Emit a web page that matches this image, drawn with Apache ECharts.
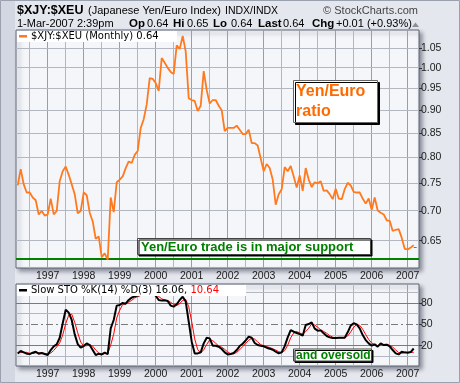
<!DOCTYPE html>
<html><head><meta charset="utf-8">
<script src="https://cdn.jsdelivr.net/npm/echarts@6.0.0/dist/echarts.min.js"></script>
<style>html,body{margin:0;padding:0;background:#e4e7ee;}#c{width:460px;height:383px;}</style>
</head><body><div id="c"></div>
<script>
// ---- data (monthly, starting March 1996) ----
const startMonth = '1996-03';
const ratio = [
 0.746,0.777,0.748,0.733,0.733,0.724,0.719,0.694,0.700,0.692,
 0.694,0.722,0.694,0.700,0.754,0.773,0.782,0.766,0.748,0.730,
 0.696,0.700,0.733,0.728,0.697,0.682,0.653,0.657,0.624,0.630,
 0.620,0.724,0.698,0.752,0.757,0.763,0.779,0.792,0.789,0.805,
 0.813,0.861,0.880,0.913,0.975,0.973,0.963,0.944,1.025,1.013,
 1.000,0.990,0.985,1.058,1.048,1.083,1.042,0.927,0.923,0.921,
 0.898,0.910,0.992,0.946,0.915,0.923,0.923,0.910,0.900,0.854,
 0.861,0.861,0.861,0.866,0.857,0.848,0.848,0.857,0.829,0.829,
 0.824,0.798,0.773,0.787,0.779,0.757,0.711,0.730,0.739,0.781,
 0.773,0.783,0.763,0.742,0.765,0.736,0.779,0.757,0.743,0.752,
 0.750,0.754,0.736,0.737,0.730,0.721,0.740,0.722,0.721,0.739,
 0.751,0.746,0.734,0.733,0.733,0.722,0.713,0.722,0.702,0.724,
 0.701,0.697,0.694,0.684,0.683,0.666,0.668,0.669,0.655,0.637,
 0.636,0.639,0.643
];
const stoK = [
 9.1,12.5,10.6,8.7,8.2,10.1,11.5,8.7,9.6,8.2,
 6.8,13.9,19.1,21.9,31.3,51.7,71.0,66.8,56.4,36.1,
 22.4,17.2,19.5,23.3,21.0,13.9,6.8,8.7,7.7,10.1,
 8.2,44.6,56.4,76.7,77.6,80.5,79.5,84.7,88.0,90.0,
 90.9,92.0,93.0,93.5,94.0,93.5,90.9,84.7,83.8,84.3,
 83.3,76.7,75.3,78.6,84.7,89.4,82.4,54.0,25.7,9.1,
 9.1,10.6,23.3,31.3,30.4,20.0,20.0,18.6,15.3,10.6,
 7.7,8.2,9.6,13.9,19.5,22.8,27.6,32.8,31.3,23.8,
 21.0,20.0,19.1,17.2,15.8,14.3,11.5,9.1,10.6,19.5,
 31.8,42.2,39.8,38.0,36.5,34.2,49.3,50.7,53.1,44.1,
 41.3,41.7,37.5,33.7,31.8,30.9,30.9,31.3,31.3,31.3,
 38.9,48.4,51.7,50.2,44.6,35.1,28.0,23.3,20.0,21.9,
 18.6,23.3,21.0,21.4,19.1,13.9,9.1,7.7,11.5,10.6,
 10.1,11.0,16.06
];
const stoD = [
 10.0,10.5,10.7,10.6,9.2,9.0,9.9,10.1,9.9,8.8,
 8.2,9.6,13.3,18.3,24.1,35.0,51.3,63.2,64.7,53.1,
 38.3,25.2,19.7,20.0,21.3,19.4,13.9,9.8,7.7,8.8,
 8.7,21.0,36.4,59.2,70.2,78.3,79.2,81.6,84.1,87.6,
 89.6,91.0,92.0,92.8,93.5,93.7,92.8,89.7,86.5,84.3,
 83.8,81.4,78.4,76.9,79.5,84.2,85.5,75.3,54.0,29.6,
 14.6,9.6,14.3,21.7,28.3,27.2,23.5,19.5,18.0,14.8,
 11.2,8.8,8.5,10.6,14.3,18.7,23.3,27.7,30.6,29.3,
 25.4,21.6,20.0,18.8,17.4,15.8,13.9,11.6,10.4,13.1,
 20.6,31.2,37.9,40.0,38.1,36.2,40.0,44.7,51.0,49.3,
 46.2,42.4,40.2,37.6,34.3,32.1,31.2,31.0,31.2,31.3,
 33.8,39.5,46.3,50.1,48.8,43.3,35.9,28.8,23.8,21.7,
 20.2,21.3,21.0,21.9,20.5,18.1,14.0,10.2,9.4,9.9,
 10.7,10.6,10.64
];
const priceTicks = [0.65,0.70,0.75,0.80,0.85,0.90,0.95,1.00,1.05];
const stoLabelTicks = [20,50,80];
const stoLightTicks = [5,35,65,95];
const yearTicks = [1997,1998,1999,2000,2001,2002,2003,2004,2005,2006,2007];
const halfYearTicks = [1996.5,1997.5,1998.5,1999.5,2000.5,2001.5,2002.5,2003.5,2004.5,2005.5,2006.5];
const supportLevel = 0.62;
const lastValue = 0.64;

// ---- build ----
const months = [];
(function(){ let [y,m] = startMonth.split('-').map(Number);
  for (let i=0;i<ratio.length;i++){ months.push(y+(m-1)/12); m++; if(m>12){m=1;y++;} } })();
const X_MIN = 1996.119, X_MAX = 2007.314;
const LABEL_FONT = 'Liberation Sans, Arial, sans-serif';
const STYLES = {
  light:{color:'#b3b7c1', w:1},
  dark:{color:'#9a9eaa', w:1},
  level:{color:'#7a7a7a', w:1},
  dashdot:{color:'#7a7a7a', w:1, dash:[7,3,2,3]},
  support:{color:'#008000', w:2}
};
function gridItems(hValues, yInRange, extraH){
  const items = [];
  yearTicks.forEach(v=>items.push([v, yInRange, 'v', 'dark']));
  halfYearTicks.forEach(v=>items.push([v, yInRange, 'v', 'light']));
  hValues.forEach(v=>items.push([X_MIN, v, 'h', 'light']));
  (extraH||[]).forEach(e=>items.push([X_MIN, e[0], 'h', e[1]]));
  return items;
}
function gridSeries(xi, yi, items){
  return {
    type:'custom', xAxisIndex:xi, yAxisIndex:yi, z:1, silent:true, clip:false,
    data: items.map(it=>[it[0], it[1]]), encode:{x:0, y:1},
    renderItem:function(params, api){
      const it = items[params.dataIndex];
      const cs = params.coordSys;
      const p = api.coord([api.value(0), api.value(1)]);
      const st = STYLES[it[3]];
      if (st.dash){
        const y = Math.floor(p[1]) + 0.5;
        return {type:'line', shape:{x1:cs.x, y1:y, x2:cs.x+cs.width, y2:y},
          style:{stroke:st.color, lineWidth:1, lineDash:st.dash, fill:null}};
      }
      if (it[2]==='v'){
        return {type:'rect', shape:{x:Math.floor(p[0]), y:cs.y, width:st.w, height:cs.height}, style:{fill:st.color}};
      }
      return {type:'rect', shape:{x:cs.x, y:Math.floor(p[1]) - (st.w>1?1:0), width:cs.width, height:st.w}, style:{fill:st.color}};
    }
  };
}
function xAxisFor(gi){
  return {
    type:'value', gridIndex:gi, min:X_MIN, max:X_MAX,
    axisLine:{show:false}, axisTick:{show:false}, splitLine:{show:false},
    axisLabel:{show:true, customValues:yearTicks, formatter:v=>String(Math.round(v)),
      color:'#1a1a1a', fontSize:10.5, fontFamily:LABEL_FONT, margin:3}
  };
}
const lnTicks = priceTicks.map(Math.log);
const chart = echarts.init(document.getElementById('c'), null, {renderer:'canvas', devicePixelRatio:1});
const gridCommon = {show:true, backgroundColor:'#f5f6fa', borderColor:'#5a6275', borderWidth:1,
  shadowColor:'rgba(40,45,60,0.45)', shadowBlur:4, shadowOffsetX:3, shadowOffsetY:3, outerBoundsMode:'none'};

chart.setOption({
  animation:false,
  backgroundColor:'#e4e7ee',
  grid:[
    Object.assign({left:16, top:30, width:403, height:238}, gridCommon),
    Object.assign({left:16, top:284, width:403, height:82}, gridCommon)
  ],
  xAxis:[xAxisFor(0), xAxisFor(1)],
  yAxis:[{
    type:'value', gridIndex:0, position:'right',
    min:Math.log(0.6073), max:Math.log(1.099),
    axisLine:{show:false},
    axisTick:{show:true, customValues:lnTicks, length:3, lineStyle:{color:'#333'}},
    axisLabel:{customValues:lnTicks, formatter:v=>Math.exp(v).toFixed(2), margin:2,
      color:'#1a1a1a', fontSize:10.5, fontFamily:LABEL_FONT},
    splitLine:{show:false}
  },{
    type:'value', gridIndex:1, position:'right', min:-8.7, max:107.3,
    axisLine:{show:false},
    axisTick:{show:true, customValues:stoLabelTicks, length:3, lineStyle:{color:'#333'}},
    axisLabel:{customValues:stoLabelTicks, margin:2, color:'#1a1a1a', fontSize:10.5, fontFamily:LABEL_FONT},
    splitLine:{show:false}
  }],
  series:[
    gridSeries(0, 0, gridItems(lnTicks, 0, [[Math.log(supportLevel), 'support']])),
    gridSeries(1, 1, gridItems(stoLightTicks, 50, [[80,'level'],[20,'level'],[50,'dashdot']])),
  {
    type:'line', xAxisIndex:0, yAxisIndex:0, symbol:'none', z:5,
    data: months.map((t,i)=>[t, Math.log(ratio[i])]),
    lineStyle:{color:'#ff7a1e', width:1.8}, itemStyle:{color:'#ff7a1e'},
    markLine:{silent:true, symbol:'none', label:{show:false}, animation:false, data:[
        [{coord:[months[months.length-1], Math.log(lastValue)], lineStyle:{color:'#a050b0', width:1, type:[3,3]}},
         {coord:[X_MAX, Math.log(lastValue)]}]
      ]}
  },{
    type:'line', xAxisIndex:1, yAxisIndex:1, symbol:'none', z:4,
    data: months.map((t,i)=>[t, stoD[i]]),
    lineStyle:{color:'#ff0000', width:1}
  },{
    type:'line', xAxisIndex:1, yAxisIndex:1, symbol:'none', z:5,
    data: months.map((t,i)=>[t, stoK[i]]),
    lineStyle:{color:'#000000', width:2}
  }],
  graphic:[
    {type:'rect', shape:{x:0,y:0,width:15,height:383}, z:-10, style:{fill:'#d3d7e1'}},
    {type:'rect', shape:{x:0.5,y:0.5,width:459,height:382}, z:-9, style:{fill:null, stroke:'#9aa0ae', lineWidth:1}},
    {type:'text', x:17, y:10.5, z:100, style:{text:'$XJY:$XEU', font:'bold 12.5px '+LABEL_FONT, fill:'#000', verticalAlign:'middle'}},
    {type:'text', x:88, y:11, z:100, style:{text:'(Japanese Yen/Euro Index)', font:'11px '+LABEL_FONT, fill:'#000', verticalAlign:'middle'}},
    {type:'text', x:225, y:11, z:100, style:{text:'INDX/INDX', font:'10.5px '+LABEL_FONT, fill:'#000', verticalAlign:'middle'}},
    {type:'text', x:418, y:11, z:100, style:{text:'\u00A9 StockCharts.com', font:'11px '+LABEL_FONT, fill:'#444', align:'right', verticalAlign:'middle'}},
    {type:'text', x:17, y:24, z:100, style:{text:'1-Mar-2007 2:39pm', font:'11px '+LABEL_FONT, fill:'#000', verticalAlign:'middle'}},
    {type:'text', x:129, y:24, z:100, style:{text:'Op', font:'bold 11.5px '+LABEL_FONT, fill:'#000', verticalAlign:'middle'}},
    {type:'text', x:147, y:24, z:100, style:{text:'0.64', font:'11px '+LABEL_FONT, fill:'#000', verticalAlign:'middle'}},
    {type:'text', x:173, y:24, z:100, style:{text:'Hi', font:'bold 11.5px '+LABEL_FONT, fill:'#000', verticalAlign:'middle'}},
    {type:'text', x:187, y:24, z:100, style:{text:'0.65', font:'11px '+LABEL_FONT, fill:'#000', verticalAlign:'middle'}},
    {type:'text', x:213, y:24, z:100, style:{text:'Lo', font:'bold 11.5px '+LABEL_FONT, fill:'#000', verticalAlign:'middle'}},
    {type:'text', x:231, y:24, z:100, style:{text:'0.64', font:'11px '+LABEL_FONT, fill:'#000', verticalAlign:'middle'}},
    {type:'text', x:258, y:24, z:100, style:{text:'Last', font:'bold 11.5px '+LABEL_FONT, fill:'#000', verticalAlign:'middle'}},
    {type:'text', x:283, y:24, z:100, style:{text:'0.64', font:'11px '+LABEL_FONT, fill:'#000', verticalAlign:'middle'}},
    {type:'text', x:312, y:24, z:100, style:{text:'Chg', font:'bold 11.5px '+LABEL_FONT, fill:'#000', verticalAlign:'middle'}},
    {type:'text', x:336, y:24, z:100, style:{text:'+0.01 (+0.93%)', font:'11px '+LABEL_FONT, fill:'#000', verticalAlign:'middle'}},
    {type:'polygon', z:100, shape:{points:[[412,27],[419,27],[415.5,22.5]]}, style:{fill:'#8a8e98'}},
    {type:'rect', z:90, shape:{x:17,y:31,width:160,height:11}, style:{fill:'#ffffff'}},
    {type:'rect', z:100, shape:{x:19,y:35,width:8,height:2.5}, style:{fill:'#ff7a1e'}},
    {type:'text', x:31, y:36.5, z:100, style:{text:'$XJY:$XEU (Monthly) 0.64', font:'10px DejaVu Sans', fill:'#000', verticalAlign:'middle'}},
    {type:'rect', z:90, shape:{x:17,y:285,width:229,height:11}, style:{fill:'#ffffff'}},
    {type:'rect', z:100, shape:{x:19,y:289,width:8,height:2.5}, style:{fill:'#000'}},
    {type:'text', x:31, y:290.5, z:100, style:{rich:{a:{font:'10px DejaVu Sans', fill:'#000'}, r:{font:'10px DejaVu Sans', fill:'#ff0000'}},
      text:'{a|Slow STO %K(14) %D(3) 16.06, }{r|10.64}', verticalAlign:'middle'}},
    {type:'rect', z:95, shape:{x:293.5,y:80.5,width:84,height:42}, style:{fill:'#fff', stroke:'#666', lineWidth:1, shadowColor:'#000', shadowOffsetX:2, shadowOffsetY:2, shadowBlur:0}},
    {type:'text', x:296, y:92, z:100, style:{text:'Yen/Euro', font:'bold 16px '+LABEL_FONT, fill:'#ff6a00', verticalAlign:'middle'}},
    {type:'text', x:296, y:112, z:100, style:{text:'ratio', font:'bold 16px '+LABEL_FONT, fill:'#ff6a00', verticalAlign:'middle'}},
    {type:'rect', z:95, shape:{x:137.5,y:238.5,width:233,height:16}, style:{fill:'#fff', stroke:'#444', lineWidth:1, shadowColor:'#000', shadowOffsetX:1.5, shadowOffsetY:1.5, shadowBlur:0}},
    {type:'text', x:141, y:247, z:100, style:{text:'Yen/Euro trade is in major support', font:'bold 13px '+LABEL_FONT, fill:'#008000', verticalAlign:'middle'}},
    {type:'rect', z:95, shape:{x:293.5,y:349,width:78,height:12}, style:{fill:'#fff', stroke:'#444', lineWidth:1, shadowColor:'#000', shadowOffsetX:1.5, shadowOffsetY:1.5, shadowBlur:0}},
    {type:'text', x:296, y:355.5, z:100, style:{text:'and oversold', font:'bold 12px '+LABEL_FONT, fill:'#008000', verticalAlign:'middle'}}
  ]
});
</script></body></html>
